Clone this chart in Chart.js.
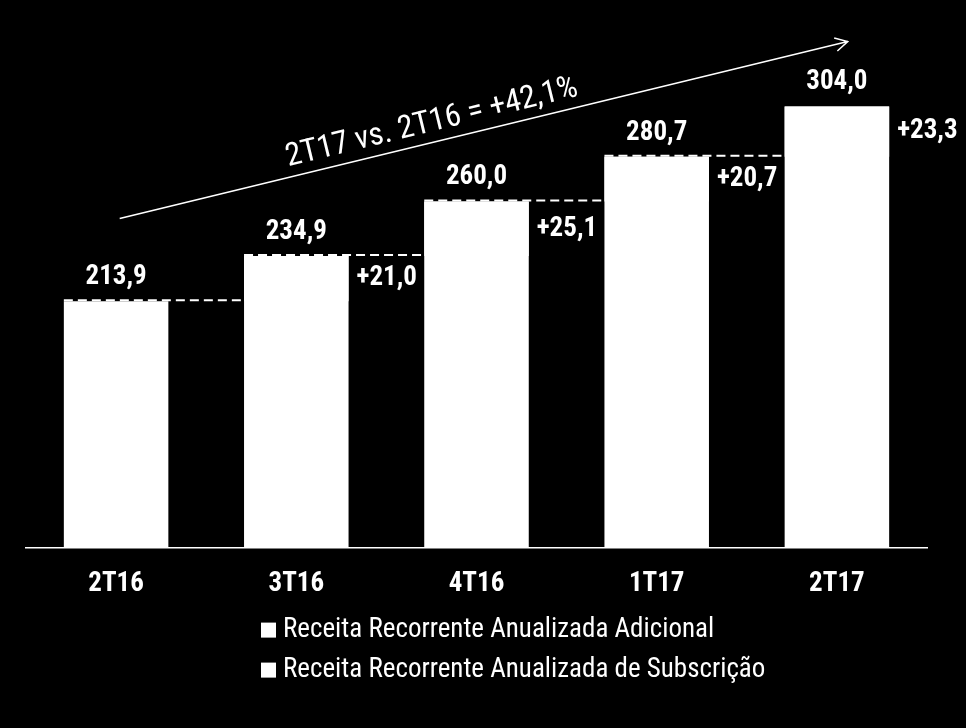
<!DOCTYPE html>
<html><head><meta charset="utf-8">
<script src="https://cdn.jsdelivr.net/npm/chart.js@4/dist/chart.umd.min.js"></script>
<style>html,body{margin:0;padding:0;background:#000;overflow:hidden}</style>
</head><body>
<canvas id="c" width="966" height="728"></canvas>
<script>
const categories = ['2T16', '3T16', '4T16', '1T17', '2T17'];
const totals = [213.9, 234.9, 260.0, 280.7, 304.0];
const increments = [null, 21.0, 25.1, 20.7, 23.3];
const seriesNames = ['Receita Recorrente Anualizada Adicional', 'Receita Recorrente Anualizada de Subscrição'];
const growthNote = '2T17 vs. 2T16 = +42,1%';
const axisMin = 100, axisMax = 350;

const FONT = '"Liberation Sans Narrow", "Arial Narrow", "Roboto Condensed", "Liberation Sans", sans-serif';
const fmt = v => v.toFixed(1).replace('.', ',');

// increment portion drawn as a floating bar on top of each total bar (same white fill)
const addValues = totals.map((t, i) => increments[i] == null ? null : [t - increments[i], t]);

const overlay = {
  id: 'overlay',
  afterDatasetsDraw(chart) {
    const ctx = chart.ctx, xs = chart.scales.x, ys = chart.scales.y;
    const meta = chart.getDatasetMeta(1);
    ctx.save();
    // dashed connectors
    ctx.strokeStyle = '#fff';
    ctx.lineWidth = 2;
    ctx.setLineDash([9, 5]);
    for (let i = 0; i < totals.length - 1; i++) {
      const b = meta.data[i], nb = meta.data[i + 1];
      const yv = ys.getPixelForValue(totals[i]) - 1;
      ctx.beginPath();
      ctx.moveTo(b.x - b.width / 2, yv);
      ctx.lineTo(nb.x - nb.width / 2, yv);
      ctx.stroke();
    }
    ctx.setLineDash([]);
    // value labels
    ctx.fillStyle = '#fff';
    ctx.font = 'bold 27px ' + FONT;
    ctx.textBaseline = 'middle';
    totals.forEach((t, i) => {
      const b = meta.data[i];
      ctx.textAlign = 'center';
      ctx.fillText(fmt(t), b.x, ys.getPixelForValue(t) - 24);
      if (increments[i] != null) {
        ctx.textAlign = 'left';
        const ym = (ys.getPixelForValue(totals[i - 1]) + ys.getPixelForValue(t)) / 2;
        ctx.fillText('+' + fmt(increments[i]), b.x + b.width / 2 + 8, ym);
      }
    });
    // growth arrow
    const x0 = xs.getPixelForValue(0.02), y0 = ys.getPixelForValue(252.2);
    const x1 = xs.getPixelForValue(4.06), y1 = ys.getPixelForValue(334);
    const ang = Math.atan2(y1 - y0, x1 - x0);
    ctx.lineWidth = 1.5;
    ctx.beginPath();
    ctx.moveTo(x0, y0); ctx.lineTo(x1, y1);
    const hl = 14;
    ctx.moveTo(x1 - hl * Math.cos(ang - 0.5), y1 - hl * Math.sin(ang - 0.5));
    ctx.lineTo(x1, y1);
    ctx.lineTo(x1 - hl * Math.cos(ang + 0.5), y1 - hl * Math.sin(ang + 0.5));
    ctx.stroke();
    const t = 0.435;
    const cx = x0 + (x1 - x0) * t, cy = y0 + (y1 - y0) * t;
    ctx.translate(cx + 19 * Math.sin(ang), cy - 19 * Math.cos(ang));
    ctx.rotate(ang);
    ctx.font = '32px ' + FONT;
    ctx.textAlign = 'center';
    ctx.textBaseline = 'middle';
    ctx.fillText(growthNote, 0, 0);
    ctx.restore();
  },
  afterDraw(chart) {
    const ctx = chart.ctx, area = chart.chartArea;
    ctx.save();
    ctx.font = '27px ' + FONT;
    ctx.textAlign = 'left';
    ctx.textBaseline = 'middle';
    chart.data.datasets.forEach((ds, i) => {
      const yy = area.bottom + 83 + i * 40;
      ctx.fillStyle = ds.backgroundColor;
      ctx.fillRect(261, yy - 8, 15, 15);
      ctx.fillStyle = '#fff';
      ctx.fillText(ds.label, 283, yy);
    });
    ctx.restore();
  }
};

new Chart(document.getElementById('c'), {
  type: 'bar',
  data: {
    labels: categories,
    datasets: [
      { label: seriesNames[0], data: addValues, backgroundColor: '#ffffff', grouped: false, order: 1 },
      { label: seriesNames[1], data: totals, backgroundColor: '#ffffff', grouped: false, order: 2 }
    ]
  },
  options: {
    responsive: false,
    animation: false,
    devicePixelRatio: 1,
    categoryPercentage: 1,
    barPercentage: 0.58,
    layout: { padding: { left: 26, right: 39, top: 7, bottom: 108 } },
    plugins: { legend: { display: false }, tooltip: { enabled: false } },
    scales: {
      x: {
        grid: { display: false, drawTicks: false },
        border: { display: true, color: '#ffffff', width: 1.5 },
        ticks: { color: '#ffffff', padding: 20, font: { family: FONT, size: 27, weight: 'bold' } }
      },
      y: { display: false, min: axisMin, max: axisMax }
    }
  },
  plugins: [overlay]
});
</script>
</body></html>
